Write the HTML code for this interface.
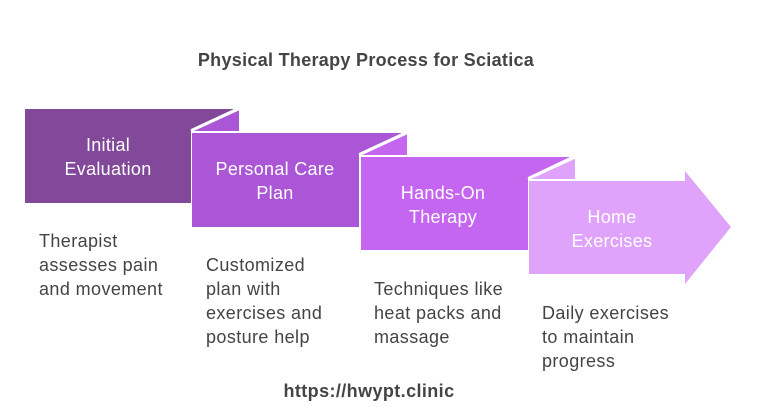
<!DOCTYPE html>
<html><head><meta charset="utf-8"><style>
html,body{margin:0;padding:0;background:#fff;}
svg{display:block;font-family:"Liberation Sans",sans-serif;}
.w{fill:#fff;font-size:18px;letter-spacing:0.3px;text-anchor:middle;}
.g{fill:#444;font-size:18px;letter-spacing:0.4px;}
</style></head><body>
<svg width="757" height="420" viewBox="0 0 757 420">
<text x="366" y="66" text-anchor="middle" font-size="18" font-weight="bold" fill="#444" letter-spacing="0.3">Physical Therapy Process for Sciatica</text>

<polygon points="25,109 234,109 191,129 191,203 25,203" fill="#82489a"/>
<polygon points="193,131 239,110 239,131" fill="#aa56d6"/>
<rect x="192" y="133" width="166" height="94" fill="#aa56d6"/>
<line x1="191" y1="131" x2="239" y2="109" stroke="#fff" stroke-width="2.5"/>

<polygon points="358,133 402,133 359,153 359,227 358,227" fill="#aa56d6"/>
<polygon points="362,155 407,134 407,155" fill="#c466f0"/>
<rect x="361" y="157" width="166" height="93" fill="#c466f0"/>
<line x1="359" y1="155" x2="407" y2="133" stroke="#fff" stroke-width="2.5"/>

<polygon points="527,157 570,157 528,177 528,250 527,250" fill="#c466f0"/>
<polygon points="530,179 575,158 575,179" fill="#e0a3fc"/>
<polygon points="529,181 685,181 685,171 731,227 685,284 685,274 529,274" fill="#e0a3fc"/>
<line x1="528" y1="179" x2="576" y2="157" stroke="#fff" stroke-width="2.5"/>

<text class="w" x="108" y="151">Initial</text>
<text class="w" x="108" y="175">Evaluation</text>
<text class="w" x="275" y="175">Personal Care</text>
<text class="w" x="275" y="199">Plan</text>
<text class="w" x="443" y="199">Hands-On</text>
<text class="w" x="443" y="223">Therapy</text>
<text class="w" x="612" y="223">Home</text>
<text class="w" x="612" y="247">Exercises</text>

<text class="g" x="39" y="247">Therapist</text>
<text class="g" x="39" y="271">assesses pain</text>
<text class="g" x="39" y="295">and movement</text>
<text class="g" x="206" y="271">Customized</text>
<text class="g" x="206" y="295">plan with</text>
<text class="g" x="206" y="319">exercises and</text>
<text class="g" x="206" y="343">posture help</text>
<text class="g" x="374" y="295">Techniques like</text>
<text class="g" x="374" y="319">heat packs and</text>
<text class="g" x="374" y="343">massage</text>
<text class="g" x="542" y="319">Daily exercises</text>
<text class="g" x="542" y="343">to maintain</text>
<text class="g" x="542" y="367">progress</text>

<text x="369" y="397" text-anchor="middle" font-size="18" font-weight="bold" fill="#444" letter-spacing="0.4">https://hwypt.clinic</text>
</svg>
</body></html>
